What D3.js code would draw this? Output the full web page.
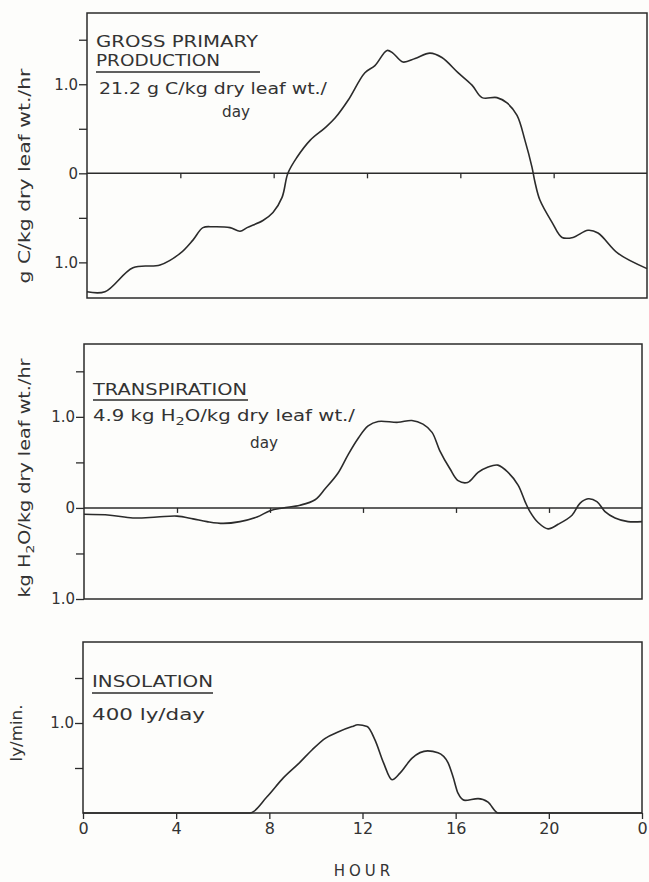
<!DOCTYPE html>
<html>
<head>
<meta charset="utf-8">
<script src="https://cdn.jsdelivr.net/npm/d3@7"></script>
<style>
  body { margin: 0; background: #fdfdfb; }
  svg text { font-family: "DejaVu Sans", sans-serif; fill: #333; }
</style>
</head>
<body>
<div id="chart"></div>
<script>
// Hours of the day and values
const gppHours = [0, 0.77, 1.97, 3.13, 3.99, 4.54, 4.97, 5.4, 6.13, 6.56, 6.86, 7.54, 7.97, 8.36, 8.61, 9.0, 9.56, 10.2, 10.63, 11.19, 11.91, 12.34, 12.86, 13.11, 13.54, 14.06, 14.7, 15.21, 15.9, 16.5, 16.93, 17.57, 18.0, 18.43, 18.77, 19.07, 19.2, 19.41, 19.93, 20.36, 20.83, 21.47, 21.9, 22.76, 24];
const gppValues = [-1.33, -1.33, -1.06, -1.03, -0.9, -0.75, -0.61, -0.6, -0.61, -0.65, -0.61, -0.53, -0.44, -0.27, 0, 0.18, 0.37, 0.51, 0.62, 0.82, 1.13, 1.21, 1.38, 1.35, 1.25, 1.29, 1.35, 1.3, 1.13, 0.99, 0.85, 0.85, 0.79, 0.65, 0.37, 0.07, -0.1, -0.3, -0.55, -0.72, -0.72, -0.64, -0.67, -0.9, -1.07];

const transHours = [0, 1.12, 2.1, 3.14, 4.0, 4.69, 5.29, 5.98, 6.71, 7.44, 8.0, 8.56, 9.29, 9.94, 10.37, 10.92, 11.35, 11.78, 12.22, 12.65, 13.5, 14.1, 14.58, 14.97, 15.3, 15.74, 16.09, 16.5, 16.95, 17.38, 17.8, 18.24, 18.67, 18.97, 19.18, 19.53, 19.96, 20.39, 20.99, 21.33, 21.68, 22.06, 22.41, 22.84, 23.4, 24];
const transValues = [-0.07, -0.08, -0.11, -0.1, -0.09, -0.12, -0.15, -0.17, -0.15, -0.1, -0.03, 0, 0.03, 0.09, 0.21, 0.38, 0.58, 0.76, 0.9, 0.95, 0.94, 0.96, 0.92, 0.83, 0.63, 0.43, 0.3, 0.28, 0.39, 0.45, 0.47, 0.39, 0.25, 0.07, -0.04, -0.16, -0.23, -0.18, -0.08, 0.05, 0.1, 0.07, -0.04, -0.11, -0.15, -0.15];

const insolHours = [0, 7.17, 7.9, 8.6, 9.3, 9.83, 10.4, 10.95, 11.55, 11.8, 12.2, 12.54, 12.9, 13.27, 13.6, 14.13, 14.8, 15.24, 15.67, 15.89, 16.1, 16.4, 16.96, 17.39, 17.82, 24];
const insolValues = [0, 0, 0.18, 0.39, 0.56, 0.7, 0.83, 0.9, 0.96, 0.98, 0.96, 0.81, 0.56, 0.37, 0.44, 0.61, 0.69, 0.67, 0.56, 0.4, 0.22, 0.14, 0.16, 0.12, 0, 0];

// Axis ticks and labels
const hourTicks = [0, 4, 8, 12, 16, 20, 24];
const hourTickLabels = ["0", "4", "8", "12", "16", "20", "0"];
const signedTicks = [-1, -0.5, 0, 0.5, 1, 1.5];
const signedTickLabels = ["1.0", "", "0", "", "1.0", ""];
const insolTicks = [0.5, 1, 1.5];
const insolTickLabels = ["", "1.0", ""];

const svgWidth = 649;
const svgHeight = 882;
const ink = "#2b2b2b";

const svg = d3.select("#chart")
    .append("svg")
    .attr("width", svgWidth)
    .attr("height", svgHeight);

// Panel frames (the scanned figure is slightly skewed, so each has its own box)
const panels = [
    {
        box: {left: 87, right: 647, top: 13, bottom: 298},
        yDomain: [-1.4, 1.8],
        hours: gppHours, values: gppValues,
        ticks: signedTicks, tickLabels: signedTickLabels,
        zeroLine: true,
        curve: d3.curveCatmullRom.alpha(0.5),
        yTitle: {text: "g C/kg dry leaf wt./hr", x: 30, y: 176, len: 215}
    },
    {
        box: {left: 84, right: 642, top: 344, bottom: 599},
        yDomain: [-1, 1.8],
        hours: transHours, values: transValues,
        ticks: signedTicks, tickLabels: signedTickLabels,
        zeroLine: true,
        curve: d3.curveCatmullRom.alpha(0.5),
        yTitle: null
    },
    {
        box: {left: 83, right: 642, top: 642, bottom: 813},
        yDomain: [0, 1.9],
        hours: insolHours, values: insolValues,
        ticks: insolTicks, tickLabels: insolTickLabels,
        zeroLine: false,
        curve: d3.curveMonotoneX,
        yTitle: {text: "ly/min.", x: 22, y: 733, len: 57}
    }
];

panels.forEach((p) => {
    const b = p.box;
    const x = d3.scaleLinear().domain([0, 24]).range([b.left, b.right]);
    const y = d3.scaleLinear().domain(p.yDomain).range([b.bottom, b.top]);

    const g = svg.append("g");

    // frame
    g.append("rect")
        .attr("x", b.left)
        .attr("y", b.top)
        .attr("width", b.right - b.left)
        .attr("height", b.bottom - b.top)
        .attr("fill", "none")
        .attr("stroke", ink)
        .attr("stroke-width", 1.5);

    // left axis
    const leftAxis = d3.axisLeft(y)
        .tickValues(p.ticks)
        .tickSize(8)
        .tickPadding(1)
        .tickFormat((d, i) => p.tickLabels[i]);

    const ax = g.append("g")
        .attr("transform", `translate(${b.left}, 0)`)
        .call(leftAxis);
    ax.select(".domain").remove();
    ax.selectAll("line").attr("stroke", ink).attr("stroke-width", 1.3);
    ax.selectAll("text")
        .attr("font-size", 15)
        .attr("font-family", "DejaVu Sans, sans-serif")
        .attr("fill", "#333");

    if (p.zeroLine) {
        g.append("line")
            .attr("x1", b.left)
            .attr("x2", b.right)
            .attr("y1", y(0))
            .attr("y2", y(0))
            .attr("stroke", ink)
            .attr("stroke-width", 1.4);

        const hourAxis = d3.axisBottom(x)
            .tickValues(hourTicks.slice(1, -1))
            .tickSize(5)
            .tickFormat("");
        const hx = g.append("g")
            .attr("transform", `translate(0, ${y(0)})`)
            .call(hourAxis);
        hx.select(".domain").remove();
        hx.selectAll("line").attr("stroke", ink).attr("stroke-width", 1.3);
    } else {
        const hourAxis = d3.axisBottom(x)
            .tickValues(hourTicks)
            .tickSize(6)
            .tickPadding(4)
            .tickFormat((d, i) => hourTickLabels[i]);
        const hx = g.append("g")
            .attr("transform", `translate(0, ${b.bottom})`)
            .call(hourAxis);
        hx.select(".domain").remove();
        hx.selectAll("line").attr("stroke", ink).attr("stroke-width", 1.3);
        hx.selectAll("text")
            .attr("font-size", 16)
            .attr("font-family", "DejaVu Sans, sans-serif")
            .attr("fill", "#333");
    }

    // the trace
    const line = d3.line()
        .x((d) => x(d[0]))
        .y((d) => y(d[1]))
        .curve(p.curve);

    g.append("path")
        .datum(d3.zip(p.hours, p.values))
        .attr("d", line)
        .attr("fill", "none")
        .attr("stroke", ink)
        .attr("stroke-width", 1.6)
        .attr("stroke-linejoin", "round");

    if (p.yTitle) {
        g.append("text")
            .attr("transform", `translate(${p.yTitle.x}, ${p.yTitle.y}) rotate(-90)`)
            .attr("text-anchor", "middle")
            .attr("font-size", 15)
            .attr("textLength", p.yTitle.len)
            .attr("lengthAdjust", "spacingAndGlyphs")
            .text(p.yTitle.text);
    }
});

// helper for panel captions
function caption(str, x, y, len, size) {
    return svg.append("text")
        .attr("x", x)
        .attr("y", y)
        .attr("font-size", size || 15)
        .attr("textLength", len)
        .attr("lengthAdjust", "spacingAndGlyphs")
        .text(str);
}
function rule(x1, x2, y) {
    svg.append("line")
        .attr("x1", x1).attr("x2", x2)
        .attr("y1", y).attr("y2", y)
        .attr("stroke", ink)
        .attr("stroke-width", 1.6);
}

// Gross primary production
caption("GROSS PRIMARY", 96, 47, 162);
caption("PRODUCTION", 96, 66, 124);
rule(96, 260, 72);
caption("21.2 g C/kg dry leaf wt./", 99, 94, 228);
caption("day", 222, 117, 28);

// Transpiration
caption("TRANSPIRATION", 93, 395, 154);
rule(93, 248, 400);
const tr = svg.append("text")
    .attr("x", 93)
    .attr("y", 421)
    .attr("font-size", 15)
    .attr("textLength", 262)
    .attr("lengthAdjust", "spacingAndGlyphs");
tr.append("tspan").text("4.9 kg H");
tr.append("tspan").attr("font-size", 11).attr("dy", 4).text("2");
tr.append("tspan").attr("dy", -4).text("O/kg dry leaf wt./");
caption("day", 250, 448, 28);

// y title with subscript for panel 2
const t2 = svg.append("text")
    .attr("transform", "translate(30, 478) rotate(-90)")
    .attr("text-anchor", "middle")
    .attr("font-size", 15)
    .attr("textLength", 239)
    .attr("lengthAdjust", "spacingAndGlyphs");
t2.append("tspan").text("kg H");
t2.append("tspan").attr("font-size", 11).attr("dy", 4).text("2");
t2.append("tspan").attr("dy", -4).text("O/kg dry leaf wt./hr");

// Insolation
caption("INSOLATION", 92, 687, 121);
rule(92, 213, 693);
caption("400 ly/day", 92, 720, 113);

// x axis title
svg.append("text")
    .attr("x", 364)
    .attr("y", 876)
    .attr("text-anchor", "middle")
    .attr("font-size", 15)
    .attr("letter-spacing", 4)
    .text("HOUR");
</script>
</body>
</html>
